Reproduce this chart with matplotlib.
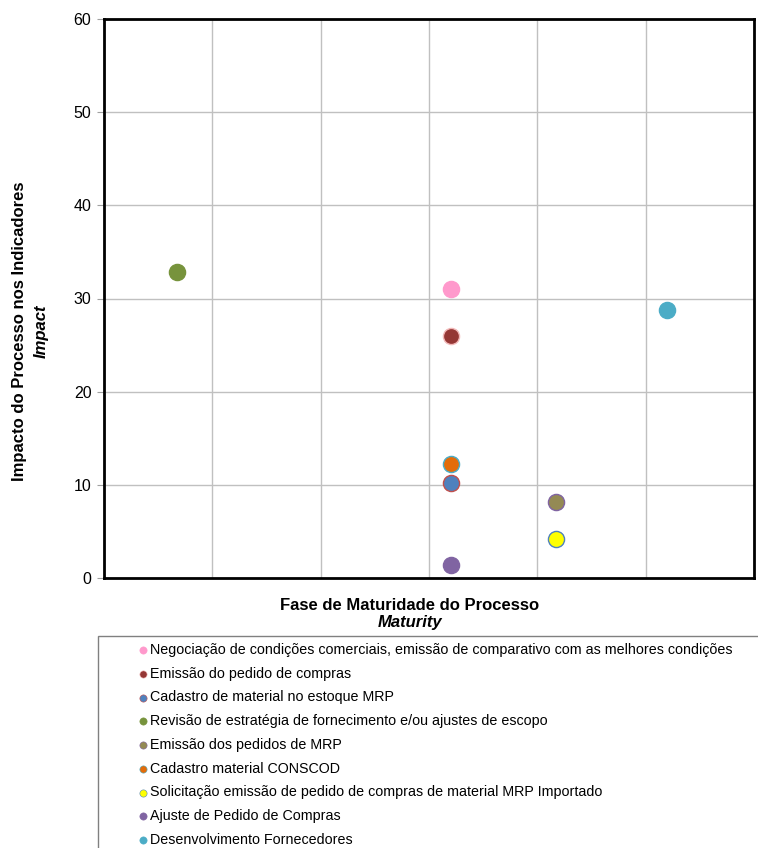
import matplotlib.pyplot as plt
from matplotlib.patches import Rectangle

plt.rcParams['font.family'] = ['Liberation Sans', 'DejaVu Sans']

# Processos avaliados: maturidade (x) vs impacto nos indicadores (y)
processos = [
    "Negociação de condições comerciais, emissão de comparativo com as melhores condições",
    "Emissão do pedido de compras",
    "Cadastro de material no estoque MRP",
    "Revisão de estratégia de fornecimento e/ou ajustes de escopo",
    "Emissão dos pedidos de MRP",
    "Cadastro material CONSCOD",
    "Solicitação emissão de pedido de compras de material MRP Importado",
    "Ajuste de Pedido de Compras",
    "Desenvolvimento Fornecedores",
]
maturidade = [3.2, 3.2, 3.2, 0.67, 4.17, 3.2, 4.17, 3.2, 5.2]
impacto = [31.0, 26.0, 10.2, 32.8, 8.2, 12.2, 4.2, 1.4, 28.8]

cores = ["#ff99cc", "#953735", "#4f81bd", "#77933c", "#948a54",
         "#e36c09", "#ffff00", "#8064a2", "#4bacc6"]
bordas = ["#ff99cc", "#f2b8b8", "#c0504d", "#77933c", "#8064a2",
          "#4bacc6", "#4f81bd", "#8064a2", "#4bacc6"]

fig = plt.figure(figsize=(7.58, 8.48), dpi=100)
ax = fig.add_axes([104 / 758, 1 - 578 / 848, 650 / 758, 559 / 848])

for nome, x, y, c, b in zip(processos, maturidade, impacto, cores, bordas):
    ax.scatter(x, y, s=135, color=c, edgecolors=b, linewidths=1.0,
               label=nome, zorder=3)

ax.set_xlim(0, 6)
ax.set_ylim(0, 60)
ax.set_xticks(range(7))
ax.set_yticks(range(0, 61, 10))
ax.grid(True, color="#c0c0c0", linewidth=1.0)
ax.set_axisbelow(True)
ax.tick_params(axis="x", length=0, labelbottom=False)
ax.tick_params(axis="y", length=5, color="#a0a0a0", labelsize=11.5, pad=4)
for sp in ax.spines.values():
    sp.set_linewidth(2.0)
    sp.set_color("black")

# titulos dos eixos
fig.text(20 / 758, 1 - 331 / 848, "Impacto do Processo nos Indicadores",
         rotation=90, ha="center", va="center", fontsize=12, fontweight="bold")
fig.text(41 / 758, 1 - 331 / 848, "Impact", rotation=90, ha="center",
         va="center", fontsize=12, fontweight="bold", style="italic")
fig.text(410 / 758, 1 - 605 / 848, "Fase de Maturidade do Processo",
         ha="center", va="center", fontsize=12, fontweight="bold")
fig.text(410 / 758, 1 - 623 / 848, "Maturity", ha="center", va="center",
         fontsize=12, fontweight="bold", style="italic")

# caixa da legenda (corta na borda da figura)
caixa = Rectangle((98 / 758, -0.05), 700 / 758, 1 - 636 / 848 + 0.05,
                  transform=fig.transFigure, fill=False,
                  edgecolor="#808080", linewidth=1.0)
fig.patches.append(caixa)

leg = fig.legend(loc="upper left", bbox_to_anchor=(139 / 758, 1 - 643 / 848),
                 frameon=False, fontsize=10.3, markerscale=0.45,
                 handlelength=0.6, handletextpad=0.2, labelspacing=0.68,
                 borderpad=0, borderaxespad=0)
for h in leg.legend_handles:
    h.set_linewidths(0.4)

fig.savefig("out.png", dpi=100)
